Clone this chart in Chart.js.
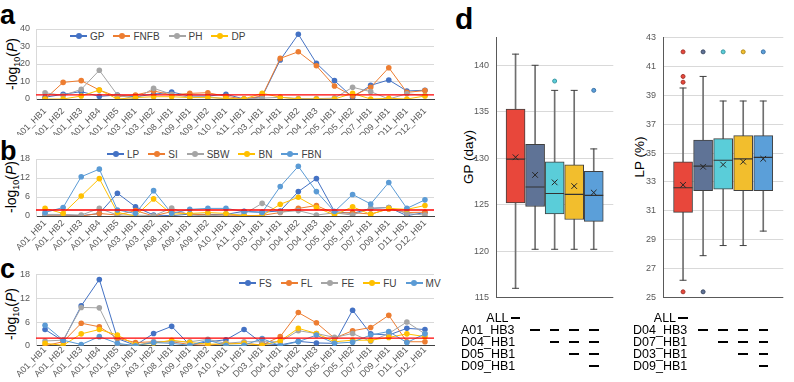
<!DOCTYPE html>
<html>
<head>
<meta charset="utf-8">
<script src="https://cdn.jsdelivr.net/npm/chart.js@4.4.1/dist/chart.umd.min.js"></script>
<style>
  body { margin: 0; width: 794px; height: 382px; position: relative; overflow: hidden; background: #fff;
    font-family: Arial, "Liberation Sans", sans-serif; }
  canvas { position: absolute; }
  .tag { position: absolute; font-weight: bold; font-size: 27px; line-height: 1; color: #000; }
  .ytitle { position: absolute; transform: translate(-50%, -50%) rotate(-90deg); white-space: nowrap; color: #000; }
  .ytitle sub { font-size: 9px; }
  .legend { position: absolute; display: flex; align-items: center; font-size: 10px; color: #404040; height: 12px; }
  .legend .item { display: flex; align-items: center; margin-right: 9px; }
  .legend .mark { position: relative; width: 17px; height: 8px; margin-right: 3px; }
  .legend .ln { position: absolute; left: 0; right: 0; top: 3.4px; height: 1.2px; }
  .legend .dot { position: absolute; left: 5.5px; top: 1px; width: 6px; height: 6px; border-radius: 50%; }
  .tbl { position: absolute; font-size: 12.5px; color: #000; line-height: 1; white-space: nowrap; }
  .dash { position: absolute; width: 9.5px; height: 2.4px; background: #000; }
</style>
</head>
<body>
<div class="tag" style="left:0;top:2px">a</div>
<div class="tag" style="left:0;top:138px">b</div>
<div class="tag" style="left:0;top:256px">c</div>
<div class="tag" style="left:455px;top:4px;font-size:30px">d</div>

<div class="ytitle" style="left:13px;top:64px;font-size:14px">-log<sub>10</sub>(<i>P</i>)</div>
<div class="ytitle" style="left:12px;top:187px;font-size:14px">-log<sub>10</sub>(<i>P</i>)</div>
<div class="ytitle" style="left:12px;top:314px;font-size:14px">-log<sub>10</sub>(<i>P</i>)</div>
<div class="ytitle" style="left:468px;top:157px;font-size:13.5px">GP (day)</div>
<div class="ytitle" style="left:639px;top:157px;font-size:13.5px">LP (%)</div>

<div id="legendA" class="legend" style="left:70px;top:30px"></div>
<div id="legendB" class="legend" style="left:107px;top:148px"></div>
<div id="legendC" class="legend" style="left:239px;top:277px"></div>

<canvas id="chartA" width="438" height="147" style="left:0;top:0"></canvas>
<canvas id="chartB" width="438" height="111" style="left:0;top:145px"></canvas>
<canvas id="chartC" width="438" height="127" style="left:0;top:255px"></canvas>
<canvas id="chartGP" width="168" height="285" style="left:456px;top:25px"></canvas>
<canvas id="chartLP" width="171" height="285" style="left:623px;top:25px"></canvas>

<script>
// haplotype blocks on the x axis of a, b, c
const markers = ['A01_HB1', 'A01_HB2', 'A01_HB3', 'A01_HB4', 'A01_HB5', 'A03_HB1', 'A03_HB2', 'A08_HB1',
  'A09_HB1', 'A09_HB2', 'A10_HB1', 'A11_HB1', 'D03_HB1', 'D04_HB1', 'D04_HB2', 'D04_HB3', 'D05_HB1',
  'D05_HB2', 'D07_HB1', 'D09_HB1', 'D11_HB1', 'D12_HB1'];

// panel a
const gp   = [1.0, 2.7, 4.2, 1.5, 2.3, 1.3, 2.7, 4.0, 1.7, 1.7, 2.7, 0.0, 1.3, 22.3, 37.0, 20.4, 10.5, 1.0, 7.8, 10.9, 4.6, 5.0];
const fnfb = [0.0, 9.5, 10.5, 5.1, 1.3, 2.3, 4.6, 2.3, 3.2, 3.6, 1.5, 0.0, 1.7, 23.2, 27.0, 19.0, 7.4, 1.7, 6.7, 17.9, 3.8, 4.8];
const ph   = [3.6, 2.0, 5.5, 16.4, 2.3, 0.0, 6.1, 2.7, 1.0, 1.3, 0.0, 0.0, 0.5, 1.0, 0.3, 0.2, 0.5, 6.7, 4.2, 0.0, 3.0, 2.0];
const dp   = [0.0, 0.0, 1.7, 5.1, 0.0, 0.8, 1.3, 1.3, 0.8, 0.8, 0.4, 0.0, 3.3, 1.0, 0.0, 0.0, 0.0, 3.2, 0.0, 0.4, 0.0, 1.7];

// panel b
const lp  = [0.3, 0.3, 0.1, 0.8, 7.2, 2.9, 0.3, 0.1, 0.6, 0.5, 0.5, 1.5, 1.2, 1.6, 7.7, 11.8, 1.4, 0.8, 2.4, 2.7, 0.1, 1.1];
const si  = [0.0, 0.0, 0.0, 0.8, 0.3, 1.7, 0.0, 1.4, 0.6, 0.3, 0.3, 0.1, 0.2, 1.1, 2.4, 3.3, 0.8, 1.1, 0.6, 2.2, 1.1, 1.2];
const sbw = [0.5, 0.5, 0.3, 2.4, 0.3, 0.3, 0.1, 2.5, 0.3, 0.0, 0.4, 0.6, 4.0, 1.2, 1.7, 0.3, 1.0, 0.3, 2.4, 2.7, 0.8, 0.3];
const bn  = [2.4, 0.8, 6.3, 11.8, 1.1, 0.0, 5.4, 0.6, 0.8, 1.1, 0.8, 0.0, 0.1, 3.7, 5.9, 2.7, 0.3, 2.9, 0.5, 2.4, 2.1, 3.3];
const fbn = [1.1, 2.7, 12.4, 14.8, 1.9, 0.8, 8.0, 0.8, 2.1, 2.4, 2.4, 1.4, 1.1, 9.3, 15.7, 7.7, 1.4, 6.8, 3.8, 10.6, 2.4, 5.1];

// panel c
const fs = [4.1, 1.2, 10.1, 16.8, 1.8, 0.1, 3.1, 4.9, 0.2, 1.0, 1.5, 4.1, 0.6, 0.2, 1.1, 0.7, 0.6, 9.0, 3.0, 2.7, 4.4, 4.1];
const fl = [0.0, 1.0, 5.7, 4.8, 1.9, 0.8, 1.0, 1.0, 0.3, 0.1, 0.6, 0.6, 0.2, 2.3, 8.4, 5.8, 1.9, 3.8, 4.6, 7.7, 1.0, 1.0];
const fe = [1.2, 1.4, 9.7, 9.6, 0.3, 0.1, 1.0, 1.0, 1.0, 1.6, 0.6, 1.0, 1.0, 1.0, 3.8, 3.1, 2.1, 3.1, 1.1, 3.1, 6.0, 3.0];
const fu = [0.6, 0.1, 3.0, 4.1, 2.7, 0.2, 0.6, 1.4, 0.8, 0.4, 0.4, 0.6, 0.1, 1.2, 4.4, 3.1, 1.0, 1.4, 1.4, 2.1, 3.0, 2.3];
const mv = [5.2, 1.4, 0.3, 2.3, 0.6, 0.0, 0.8, 0.6, 0.1, 1.4, 0.1, 0.1, 1.8, 0.0, 1.0, 2.7, 0.6, 0.9, 2.7, 3.6, 0.8, 3.0];

// significance thresholds (red lines)
const thresholdA = 2.4;
const thresholdB = 1.9;
const thresholdC = 1.9;

// panel d, GP boxes
const gpGroups  = ['ALL', 'A01_HB3', 'D04_HB1', 'D05_HB1', 'D09_HB1'];
const gpMin     = [116.0, 120.2, 120.2, 120.2, 120.2];
const gpQ1      = [125.2, 124.8, 124.0, 123.4, 123.2];
const gpMedian  = [129.9, 126.9, 126.2, 126.1, 126.0];
const gpQ3      = [135.3, 131.5, 129.6, 129.3, 128.6];
const gpMax     = [141.2, 140.0, 137.3, 137.3, 131.0];
const gpMean    = [130.1, 128.2, 127.4, 127.0, 126.3];
const gpOutlier = [[], [], [138.3], [], [137.3]];

// panel d, LP boxes
const lpGroups  = ['ALL', 'D04_HB3', 'D07_HB1', 'D03_HB1', 'D09_HB1'];
const lpMin     = [26.2, 27.9, 28.6, 28.6, 29.6];
const lpQ1      = [30.9, 32.4, 32.5, 32.4, 32.4];
const lpMedian  = [32.6, 34.1, 34.5, 34.6, 34.7];
const lpQ3      = [34.4, 35.9, 36.0, 36.2, 36.2];
const lpMax     = [39.5, 40.3, 38.6, 38.6, 38.6];
const lpMean    = [32.8, 34.05, 34.2, 34.4, 34.6];
const lpOutlier = [[42.0, 40.3, 39.9, 25.4], [42.0, 25.4], [42.0], [42.0], [42.0]];

Chart.defaults.font.family = 'Arial, "Liberation Sans", sans-serif';
Chart.defaults.color = '#595959';

const EXCEL = ['#4472C4', '#ED7D31', '#A5A5A5', '#FFC000', '#5B9BD5'];
const BOX_FILL = ['#E8473B', '#5F7396', '#5ACDD9', '#F2BE2D', '#5B9FD9'];
const BOX_DOT = ['#A4372E', '#3E4B66', '#3C98A3', '#B58C1C', '#3E74A8'];

const htmlLegend = {
  id: 'htmlLegend',
  afterUpdate: (chart, args, options) => {
    const box = document.getElementById(options.containerID);
    if (!box) return;
    box.innerHTML = '';
    const items = chart.options.plugins.legend.labels.generateLabels(chart);
    items.sort((a, b) => a.datasetIndex - b.datasetIndex);
    items.forEach((item) => {
      const el = document.createElement('div');
      el.className = 'item';
      el.innerHTML = `<span class="mark"><span class="ln" style="background:${item.strokeStyle}"></span>` +
        `<span class="dot" style="background:${item.strokeStyle}"></span></span><span>${item.text}</span>`;
      box.appendChild(el);
    });
  },
};

const thresholdLine = {
  id: 'thresholdLine',
  afterDatasetsDraw: (chart, args, options) => {
    const { ctx, chartArea, scales } = chart;
    const y = scales.y.getPixelForValue(options.value);
    ctx.save();
    ctx.strokeStyle = '#FF0000';
    ctx.lineWidth = 1.3;
    ctx.beginPath();
    ctx.moveTo(chartArea.left, y);
    ctx.lineTo(chartArea.right, y);
    ctx.stroke();
    ctx.restore();
  },
};

// pad: [top, bottom] layout padding, tickPad pulls the rotated labels toward the axis
function lineConfig(series, names, yMax, yStep, threshold, legendID, pad, tickPad, xHeight) {
  return {
    type: 'line',
    plugins: [htmlLegend, thresholdLine],
    data: {
      labels: markers,
      datasets: series.map((values, i) => ({
        label: names[i],
        data: values,
        borderColor: EXCEL[i],
        backgroundColor: EXCEL[i],
        borderWidth: 1,
        pointRadius: 2.8,
        pointBorderWidth: 0,
        order: -i,
      })),
    },
    options: {
      responsive: false,
      animation: false,
      events: [],
      layout: { padding: { top: pad[0], right: 0, left: 0, bottom: pad[1] } },
      plugins: {
        legend: { display: false },
        tooltip: { enabled: false },
        htmlLegend: { containerID: legendID },
        thresholdLine: { value: threshold },
      },
      scales: {
        x: {
          offset: true,
          grid: { display: false },
          border: { color: '#404040' },
          ticks: { autoSkip: false, minRotation: 45, maxRotation: 45, padding: tickPad, font: { size: 9 } },
          afterFit: (scale) => { scale.height = xHeight; },
        },
        y: {
          min: 0,
          max: yMax,
          ticks: { stepSize: yStep, padding: 6, font: { size: 9 } },
          grid: { color: (c) => (c.tick && c.tick.value === 0 ? '#404040' : '#D9D9D9'), drawTicks: false },
          border: { color: '#D9D9D9' },
          afterFit: (scale) => { scale.width = 36; },
        },
      },
    },
  };
}

function boxConfig(mins, q1s, medians, q3s, maxs, means, outliers, yMin, yMax, yStep, padTop) {
  const at = (values) => values.map((v, i) => ({ x: i + 1, y: v }));
  const dots = [];
  const dotFill = [];
  const dotEdge = [];
  outliers.forEach((list, i) => list.forEach((v) => {
    dots.push({ x: i + 1, y: v });
    dotFill.push(BOX_FILL[i]);
    dotEdge.push(BOX_DOT[i]);
  }));
  const marks = { type: 'line', showLine: false, pointBorderWidth: 1, pointBackgroundColor: 'rgba(0,0,0,0)' };
  return {
    type: 'bar',
    data: {
      datasets: [
        { data: mins.map((v, i) => ({ x: i + 1, y: [v, maxs[i]] })), backgroundColor: '#6F6F6F', barThickness: 1, grouped: false, order: 4 },
        {
          data: q1s.map((v, i) => ({ x: i + 1, y: [v, q3s[i]] })),
          backgroundColor: BOX_FILL, borderColor: '#404040', borderWidth: 1, borderSkipped: false,
          barThickness: 19, grouped: false, order: 3,
        },
        { ...marks, data: at(mins).concat(at(maxs)), pointStyle: 'line', pointRadius: 3.5, pointBorderColor: '#404040', order: 2 },
        { ...marks, data: at(medians), pointStyle: 'line', pointRadius: 9.5, pointBorderColor: '#333333', pointBorderWidth: 1.2, order: 1 },
        { ...marks, data: at(means), pointStyle: 'crossRot', pointRadius: 4, pointBorderColor: '#262626', order: 0 },
        { ...marks, data: dots, pointStyle: 'circle', pointRadius: 2, pointBackgroundColor: dotFill, pointBorderColor: dotEdge, order: 0 },
      ],
    },
    options: {
      responsive: false,
      animation: false,
      events: [],
      layout: { padding: { top: padTop, right: 0, left: 0, bottom: 6 } },
      plugins: { legend: { display: false }, tooltip: { enabled: false } },
      scales: {
        x: { type: 'linear', min: 0, max: 6, offset: false, display: false },
        y: {
          min: yMin,
          max: yMax,
          ticks: { stepSize: yStep, includeBounds: false, padding: 7, font: { size: 9 } },
          grid: { color: (c) => (c.tick && c.tick.value === yMin ? '#595959' : '#D9D9D9'), drawTicks: false },
          border: { color: '#595959' },
          afterFit: (scale) => { scale.width = 40; },
        },
      },
    },
  };
}

new Chart(document.getElementById('chartA'),
  lineConfig([gp, fnfb, ph, dp], ['GP', 'FNFB', 'PH', 'DP'], 40, 10, thresholdA, 'legendA', [29, 12], -1, 36));
new Chart(document.getElementById('chartB'),
  lineConfig([lp, si, sbw, bn, fbn], ['LP', 'SI', 'SBW', 'BN', 'FBN'], 18, 3, thresholdB, 'legendB', [14, 4], -6, 36));
new Chart(document.getElementById('chartC'),
  lineConfig([fs, fl, fe, fu, mv], ['FS', 'FL', 'FE', 'FU', 'MV'], 18, 3, thresholdC, 'legendC', [19.7, 0], -9, 36.3));

const gpChart = new Chart(document.getElementById('chartGP'),
  boxConfig(gpMin, gpQ1, gpMedian, gpQ3, gpMax, gpMean, gpOutlier, 115, 143, 5, 7));
const lpChart = new Chart(document.getElementById('chartLP'),
  boxConfig(lpMin, lpQ1, lpMedian, lpQ3, lpMax, lpMean, lpOutlier, 25, 43, 2, 11.7));

// haplotype combination table under each box plot
function groupTable(chart, groups, labelLeft) {
  const left = chart.canvas.offsetLeft;
  const col = (i) => left + chart.scales.x.getPixelForValue(i + 1);
  groups.forEach((name, row) => {
    const y = 312 + row * 12;
    const label = document.createElement('div');
    label.className = 'tbl';
    label.textContent = name;
    label.style.top = `${y}px`;
    if (row === 0) {
      label.style.right = `${794 - (col(0) - 7)}px`;
    } else {
      label.style.left = `${labelLeft}px`;
    }
    document.body.appendChild(label);
    groups.forEach((g, c) => {
      if ((row === 0 && c === 0) || (row > 0 && c >= row)) {
        const dash = document.createElement('div');
        dash.className = 'dash';
        dash.style.left = `${col(c) - 4.75}px`;
        dash.style.top = `${y + 4.5}px`;
        document.body.appendChild(dash);
      }
    });
  });
}
groupTable(gpChart, gpGroups, 461);
groupTable(lpChart, lpGroups, 633);
</script>
</body>
</html>
